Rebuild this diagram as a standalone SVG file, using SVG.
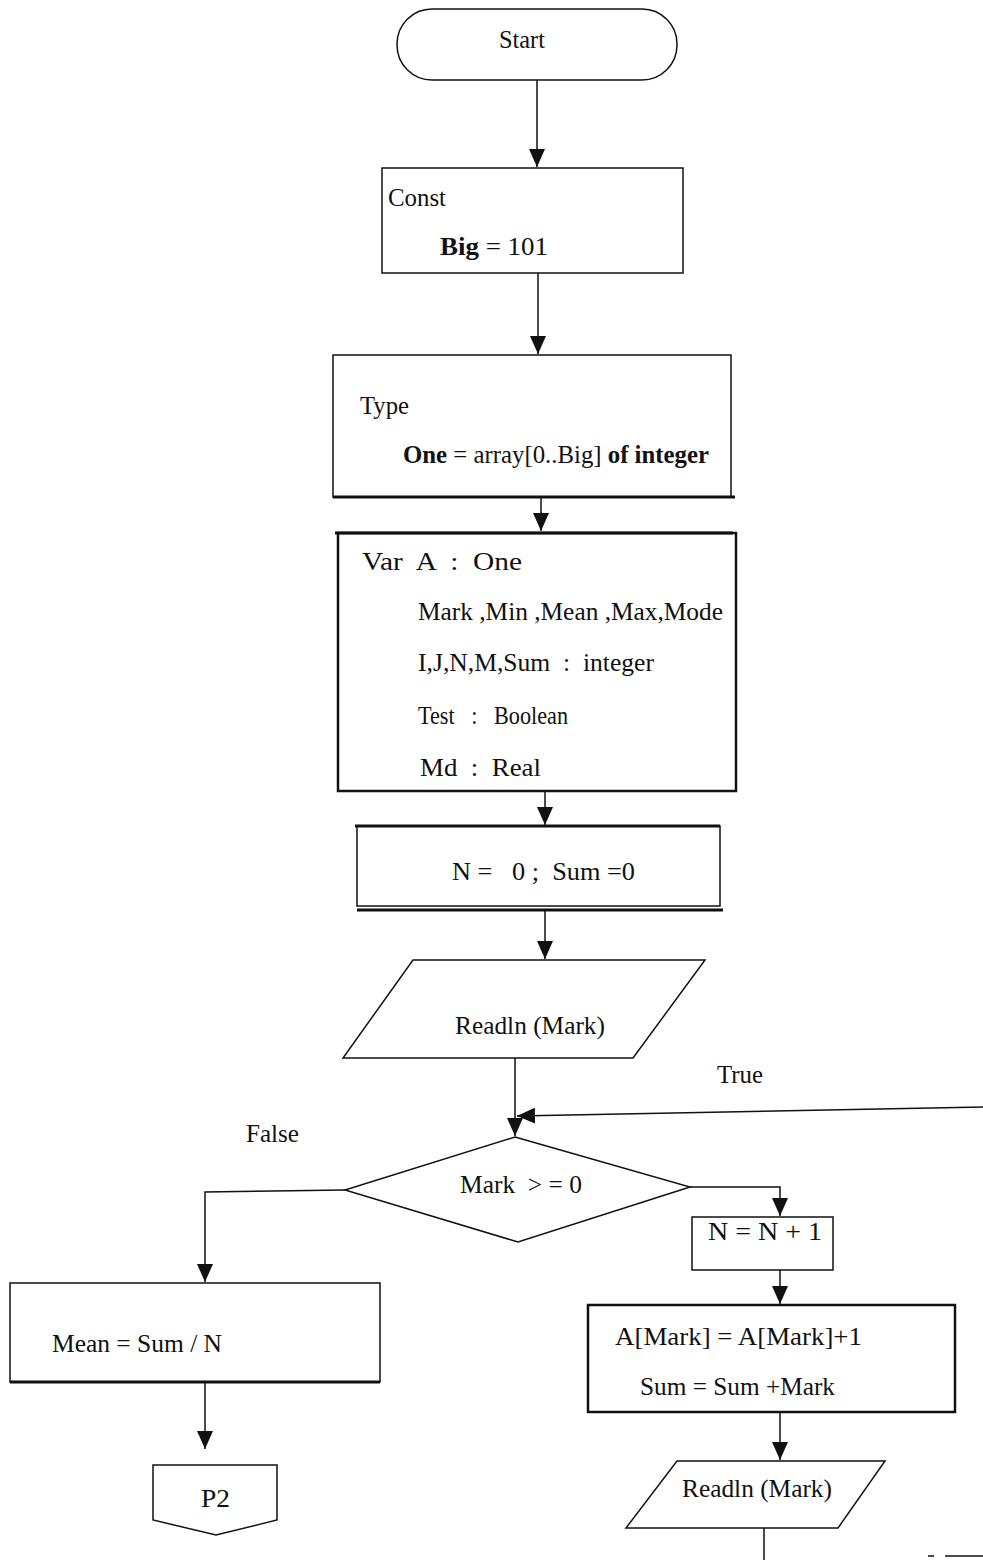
<svg xmlns="http://www.w3.org/2000/svg" width="983" height="1560" viewBox="0 0 983 1560">
  <style>
    text { font-family: "Liberation Serif", "Times New Roman", serif; font-size: 25px; fill: #111; white-space: pre; }
    .shape { fill: #fff; stroke: #111; stroke-width: 1.5; }
    .heavy { fill: #fff; stroke: #111; stroke-width: 2.5; }
    .thick { stroke: #111; stroke-width: 3; fill: none; }
    .wire { stroke: #111; stroke-width: 1.5; fill: none; }
    .b { font-weight: bold; }
  </style>
  <defs>
    <marker id="arrow" viewBox="0 0 18 16" refX="18" refY="8" markerWidth="18" markerHeight="16" markerUnits="userSpaceOnUse" orient="auto">
      <path d="M0,0 L18,8 L0,16 Z" fill="#111"/>
    </marker>
  </defs>

  <rect width="983" height="1560" fill="#fff"/>

  <!-- connectors -->
  <g id="connectors">
    <line class="wire" x1="537" y1="80" x2="537" y2="167" marker-end="url(#arrow)"/>
    <line class="wire" x1="538" y1="273" x2="538" y2="354" marker-end="url(#arrow)"/>
    <line class="wire" x1="541" y1="498" x2="541" y2="531" marker-end="url(#arrow)"/>
    <line class="wire" x1="545" y1="792" x2="545" y2="825" marker-end="url(#arrow)"/>
    <line class="wire" x1="545" y1="911" x2="545" y2="959" marker-end="url(#arrow)"/>
    <line class="wire" x1="515" y1="1058" x2="515" y2="1136" marker-end="url(#arrow)"/>
    <line class="wire" x1="983" y1="1107" x2="517" y2="1116" marker-end="url(#arrow)"/>
    <polyline class="wire" points="345,1190 205,1192 205,1282" marker-end="url(#arrow)"/>
    <polyline class="wire" points="690,1187 780,1187 780,1216" marker-end="url(#arrow)"/>
    <line class="wire" x1="780" y1="1270" x2="780" y2="1304" marker-end="url(#arrow)"/>
    <line class="wire" x1="205" y1="1382" x2="205" y2="1449" marker-end="url(#arrow)"/>
    <line class="wire" x1="780" y1="1412" x2="780" y2="1460" marker-end="url(#arrow)"/>
    <line class="wire" x1="764" y1="1528" x2="764" y2="1560"/>
    <line class="wire" x1="928" y1="1556" x2="934" y2="1556"/>
    <line class="wire" x1="945" y1="1556" x2="983" y2="1556"/>
  </g>

  <!-- terminal -->
  <g id="start">
    <rect class="shape" x="397" y="9" width="280" height="71" rx="35" ry="35"/>
    <text x="499" y="48" font-size="23" textLength="46" lengthAdjust="spacingAndGlyphs">Start</text>
  </g>

  <!-- constant declaration -->
  <g id="const">
    <rect class="shape" x="382" y="168" width="301" height="105"/>
    <text x="388" y="206" textLength="58" lengthAdjust="spacingAndGlyphs">Const</text>
    <text x="440" y="255" font-size="26" textLength="108" lengthAdjust="spacingAndGlyphs"><tspan class="b">Big</tspan> = 101</text>
  </g>

  <!-- type declaration -->
  <g id="type">
    <rect class="shape" x="333" y="355" width="398" height="142"/>
    <line class="thick" x1="333" y1="497" x2="735" y2="497"/>
    <text x="360" y="414" textLength="49" lengthAdjust="spacingAndGlyphs">Type</text>
    <text x="403" y="463" textLength="306" lengthAdjust="spacingAndGlyphs"><tspan class="b">One</tspan> = array[0..Big] <tspan class="b">of integer</tspan></text>
  </g>

  <!-- variable declarations -->
  <g id="var">
    <rect class="heavy" x="338" y="533" width="398" height="258"/>
    <line class="thick" x1="335" y1="533" x2="733" y2="533"/>
    <text x="362" y="570" font-size="26" textLength="160" lengthAdjust="spacingAndGlyphs">Var  A  :  One</text>
    <text x="418" y="620" font-size="26" textLength="305" lengthAdjust="spacingAndGlyphs">Mark ,Min ,Mean ,Max,Mode</text>
    <text x="418" y="671" font-size="26" textLength="236" lengthAdjust="spacingAndGlyphs">I,J,N,M,Sum  :  integer</text>
    <text x="418" y="724" font-size="21" textLength="150" lengthAdjust="spacingAndGlyphs">Test   :   Boolean</text>
    <text x="420" y="776" font-size="26" textLength="121" lengthAdjust="spacingAndGlyphs">Md  :  Real</text>
  </g>

  <!-- initialisation -->
  <g id="init">
    <rect class="shape" x="357" y="826" width="363" height="80"/>
    <line class="thick" x1="355" y1="826" x2="720" y2="826"/>
    <line class="thick" x1="357" y1="910" x2="723" y2="910"/>
    <text x="452" y="880" textLength="183" lengthAdjust="spacingAndGlyphs">N =   0 ;  Sum =0</text>
  </g>

  <!-- first input -->
  <g id="read1">
    <polygon class="shape" points="413,960 705,960 633,1058 343,1058"/>
    <text x="455" y="1034" textLength="150" lengthAdjust="spacingAndGlyphs">Readln (Mark)</text>
  </g>

  <!-- decision -->
  <g id="decision">
    <polygon class="shape" points="515,1137 690,1187 518,1242 345,1190"/>
    <text x="460" y="1193" textLength="122" lengthAdjust="spacingAndGlyphs">Mark  &gt; = 0</text>
  </g>

  <text id="label-true" x="717" y="1083" font-size="23" textLength="46" lengthAdjust="spacingAndGlyphs">True</text>
  <text id="label-false" x="246" y="1142" font-size="23" textLength="53" lengthAdjust="spacingAndGlyphs">False</text>

  <!-- false branch -->
  <g id="mean">
    <rect class="shape" x="10" y="1283" width="370" height="99"/>
    <line class="thick" x1="10" y1="1382" x2="380" y2="1382"/>
    <text x="52" y="1352" font-size="26" textLength="170" lengthAdjust="spacingAndGlyphs">Mean = Sum / N</text>
  </g>

  <g id="p2">
    <polygon class="shape" points="153,1465 277,1465 277,1520 216,1535 153,1520"/>
    <text x="201" y="1507" font-size="21" textLength="29" lengthAdjust="spacingAndGlyphs">P2</text>
  </g>

  <!-- true branch -->
  <g id="increment">
    <rect class="shape" x="692" y="1217" width="141" height="53"/>
    <text x="708" y="1240" textLength="114" lengthAdjust="spacingAndGlyphs">N = N + 1</text>
  </g>

  <g id="accumulate">
    <rect class="heavy" x="588" y="1305" width="367" height="107"/>
    <text x="615" y="1345" textLength="247" lengthAdjust="spacingAndGlyphs">A[Mark] = A[Mark]+1</text>
    <text x="640" y="1395" textLength="195" lengthAdjust="spacingAndGlyphs">Sum = Sum +Mark</text>
  </g>

  <g id="read2">
    <polygon class="shape" points="677,1461 885,1461 838,1528 626,1528"/>
    <text x="682" y="1497" textLength="150" lengthAdjust="spacingAndGlyphs">Readln (Mark)</text>
  </g>
</svg>
